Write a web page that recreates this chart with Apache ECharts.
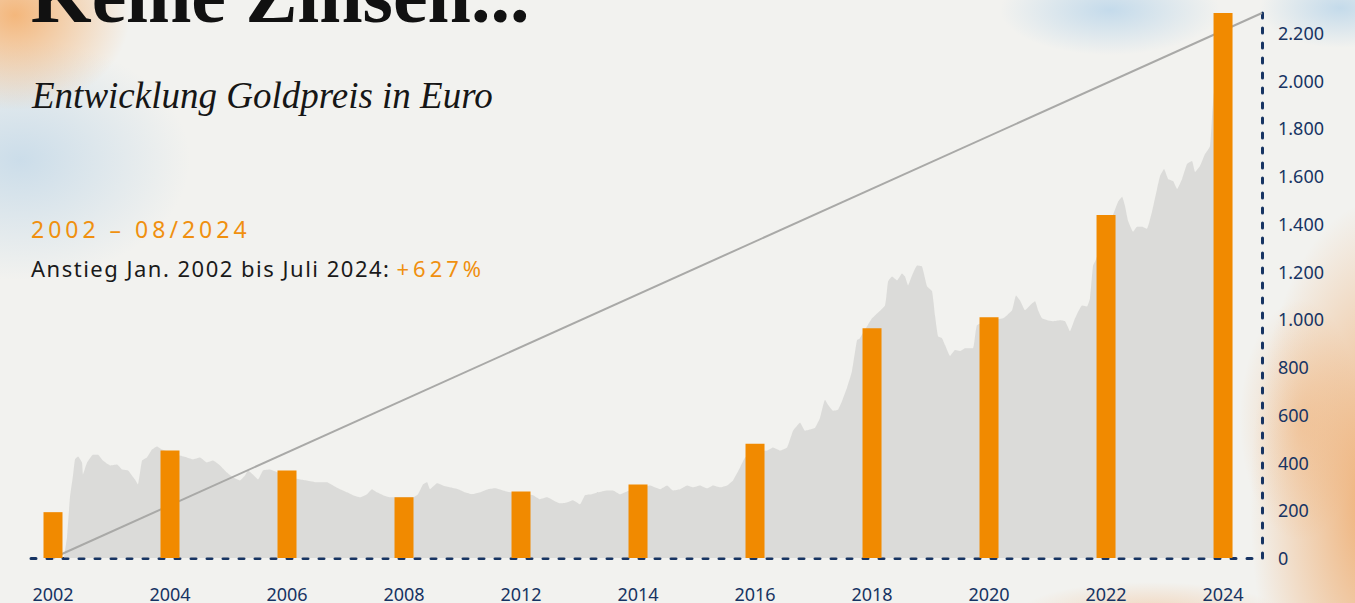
<!DOCTYPE html>
<html lang="de">
<head>
<meta charset="utf-8">
<title>Keine Zinsen... – Entwicklung Goldpreis in Euro</title>
<script src="https://cdn.jsdelivr.net/npm/echarts@6/dist/echarts.min.js"></script>
<style>
  html, body { margin: 0; padding: 0; overflow: hidden; }
  body {
    width: 1355px; height: 603px; position: relative;
    background-color: #f2f2ef;
    background-image:
      radial-gradient(ellipse 115px 95px at 15px 15px, rgba(244,168,95,0.80), rgba(244,168,95,0) 100%),
      radial-gradient(ellipse 170px 120px at 20px 160px, rgba(165,200,228,0.50), rgba(165,200,228,0) 100%),
      radial-gradient(ellipse 110px 45px at 1110px 10px, rgba(140,190,230,0.45), rgba(140,190,230,0) 100%),
      radial-gradient(ellipse 80px 40px at 1340px 8px, rgba(150,195,230,0.50), rgba(150,195,230,0) 100%),
      radial-gradient(ellipse 130px 300px at 1380px 500px, rgba(238,158,85,0.85), rgba(238,158,85,0) 100%),
      radial-gradient(ellipse 60px 120px at 1300px 420px, rgba(240,175,115,0.45), rgba(240,175,115,0) 100%),
      radial-gradient(ellipse 130px 30px at 1150px 612px, rgba(240,170,110,0.40), rgba(240,170,110,0) 100%);
  }
  #chart { position: absolute; left: 0; top: 0; width: 1355px; height: 603px; }
  .txt { position: absolute; white-space: nowrap; line-height: 1; z-index: 2; }
  #title { left: 31px; top: -43px; font-family: "Liberation Serif", serif; font-weight: bold; font-size: 78px; color: #111; }
  #subtitle { left: 32px; top: 77px; font-family: "Liberation Serif", serif; font-style: italic; font-size: 37px; color: #161616; }
  #period { left: 31px; top: 218px; font-family: "Noto Sans", sans-serif; font-size: 23px; letter-spacing: 4px; color: #f0900f; }
  #rise { left: 31px; top: 257px; font-family: "Noto Sans", sans-serif; font-size: 22px; letter-spacing: 1.5px; color: #1a1a1a; }
  #rise span { color: #f0900f; letter-spacing: 4px; margin-left: 6px; }
</style>
</head>
<body>
<div id="chart"></div>
<div class="txt" id="title">Keine Zinsen...</div>
<div class="txt" id="subtitle">Entwicklung Goldpreis in Euro</div>
<div class="txt" id="period">2002 – 08/2024</div>
<div class="txt" id="rise">Anstieg Jan. 2002 bis Juli 2024:<span>+627%</span></div>
<script>
// Categories (x-axis tick labels)
const years = ['2002','2004','2006','2008','2012','2014','2016','2018','2020','2022','2024'];
// Gold price (EUR) bars
const barValues = [192, 450, 367, 254, 279, 308, 479, 962, 1008, 1437, 2283];
// Y-axis tick values
const yTicks = [0, 200, 400, 600, 800, 1000, 1200, 1400, 1600, 1800, 2000, 2200];
// Grey trend line (start / end), positions in category-index units
const trendPos = [0, 10.333];
const trendVal = [0, 2283];
// Grey background area (monthly price silhouette), positions in category-index units
const areaPos = [0.094,0.120,0.145,0.171,0.188,0.214,0.248,0.256,0.291,0.342,0.385,0.427,0.487,0.547,0.590,0.641,0.701,0.726,0.761,0.803,0.846,0.889,0.932,1.000,1.085,1.145,1.197,1.256,1.316,1.368,1.427,1.487,1.538,1.598,1.641,1.667,1.709,1.752,1.795,1.855,1.940,2.026,2.111,2.171,2.256,2.342,2.393,2.453,2.513,2.564,2.624,2.684,2.726,2.769,2.821,2.880,2.966,3.077,3.120,3.162,3.197,3.222,3.282,3.333,3.393,3.462,3.521,3.581,3.650,3.718,3.778,3.846,3.906,3.991,4.103,4.162,4.222,4.274,4.333,4.393,4.444,4.504,4.547,4.607,4.658,4.735,4.786,4.846,4.906,5.000,5.103,5.145,5.188,5.248,5.299,5.359,5.419,5.470,5.530,5.590,5.641,5.701,5.761,5.812,5.872,5.915,6.000,6.103,6.154,6.214,6.274,6.325,6.385,6.427,6.470,6.513,6.556,6.598,6.624,6.667,6.709,6.744,6.786,6.829,6.872,6.897,7.000,7.111,7.137,7.171,7.214,7.256,7.282,7.308,7.342,7.385,7.427,7.470,7.513,7.538,7.564,7.598,7.624,7.667,7.709,7.752,7.795,7.863,7.897,8.009,8.120,8.154,8.197,8.231,8.265,8.308,8.350,8.393,8.419,8.453,8.496,8.547,8.607,8.650,8.692,8.735,8.795,8.838,8.863,8.889,8.906,9.000,9.103,9.137,9.162,9.188,9.231,9.265,9.308,9.350,9.393,9.436,9.462,9.496,9.530,9.573,9.607,9.650,9.692,9.735,9.761,9.803,9.846,9.889,9.906,9.923,10.000,10.060];
const areaVal = [0,88,254,346,413,425,400,350,400,433,433,408,388,392,371,367,329,308,408,421,454,467,454,442,429,421,413,421,400,408,388,358,338,325,346,367,350,329,367,371,354,338,329,325,317,317,304,288,275,263,254,267,288,275,263,254,254,254,267,308,317,288,313,304,296,288,275,267,275,288,292,283,275,271,263,246,254,242,229,233,242,225,263,267,275,283,283,267,279,292,304,296,288,304,283,288,304,296,304,292,304,296,304,325,379,421,442,450,463,450,463,533,567,533,538,546,588,663,642,617,621,658,713,783,913,921,1004,1058,1158,1179,1163,1192,1179,1142,1183,1225,1221,1138,1117,1017,929,921,892,846,871,867,879,879,975,996,1004,1017,1038,1100,1079,1038,1058,1075,1038,1004,996,992,996,992,950,1004,1058,1054,1088,1225,1242,1358,1492,1513,1475,1413,1367,1388,1388,1379,1450,1546,1600,1629,1588,1579,1546,1588,1650,1663,1617,1642,1692,1725,1846,1950,2088,2088];

const navy = '#173463';
const chart = echarts.init(document.getElementById('chart'), null, { renderer: 'svg' });
chart.setOption({
  animation: false,
  backgroundColor: 'transparent',
  grid: { left: 31, right: 93, top: 13, bottom: 42, containLabel: false },
  xAxis: {
    type: 'value',
    min: -0.188,
    max: trendPos[1],
    splitLine: { show: false },
    axisTick: { show: false },
    axisLine: { show: true, onZero: false, lineStyle: { color: navy, width: 3, type: [5, 11], cap: 'round' } },
    axisLabel: {
      customValues: years.map((y, i) => i),
      formatter: v => years[Math.round(v)],
      margin: 27, fontSize: 18, color: navy, fontFamily: 'Noto Sans'
    }
  },
  yAxis: {
    type: 'value',
    position: 'right',
    min: 0,
    max: trendVal[1],
    interval: 200,
    splitLine: { show: false },
    axisTick: { show: false },
    axisLine: { show: true, onZero: false, lineStyle: { color: navy, width: 3, type: [5, 10], cap: 'round' } },
    axisLabel: {
      showMaxLabel: false,
      margin: 16, fontSize: 18, color: navy, fontFamily: 'Noto Sans',
      padding: [0, 0, 5, 0],
      formatter: v => yTicks.includes(v) ? v.toLocaleString('de-DE') : ''
    }
  },
  series: [
    {
      type: 'line',
      name: 'Goldpreis Verlauf',
      data: areaPos.map((p, i) => [p, areaVal[i]]),
      showSymbol: false,
      smooth: 0.12,
      lineStyle: { width: 0 },
      areaStyle: { color: 'rgba(200,200,198,0.55)', opacity: 1 },
      z: 1,
      silent: true
    },
    {
      type: 'line',
      name: 'Trend',
      data: trendPos.map((p, i) => [p, trendVal[i]]),
      showSymbol: false,
      lineStyle: { color: '#a9a9a7', width: 2 },
      z: 2,
      silent: true
    },
    {
      type: 'bar',
      name: 'Goldpreis',
      data: barValues.map((v, i) => [i, v]),
      barWidth: 19,
      itemStyle: { color: '#f18a00' },
      z: 3
    }
  ]
});
</script>
</body>
</html>
